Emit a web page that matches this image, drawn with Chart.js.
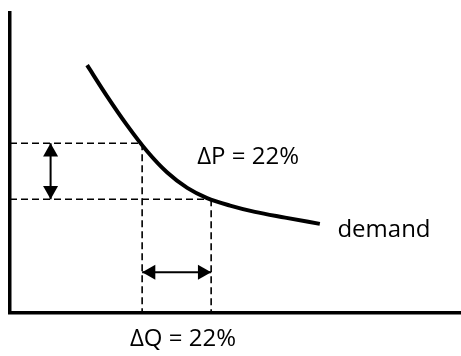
<!DOCTYPE html>
<html>
<head>
<meta charset="utf-8">
<script src="https://cdn.jsdelivr.net/npm/chart.js@4.4.0/dist/chart.umd.min.js"></script>
<style>
  body { margin: 0; background: #fff; }
  canvas { display: block; }
</style>
</head>
<body>
<canvas id="chart" width="461" height="356"></canvas>
<script>
// demand curve (quantity, price), axes 0..100
const demandQ = [17.1, 21.5, 25.9, 30.4, 34.8, 39.3, 43.7, 48.8, 54.3, 61.0, 68.7];
const demandP = [82.6, 72.3, 62.7, 53.9, 46.9, 41.7, 38.3, 35.8, 33.7, 31.8, 29.7];

// the two price / quantity levels marked by the dashed guides
const priceLevels = [56.6, 37.9];
const quantityLevels = [29.3, 44.6];

// where the two double arrows sit
const priceArrowQ = 9.0;
const quantityArrowP = 13.6;

// text labels
const labelTexts = ["\u0394P = 22%", "demand", "\u0394Q = 22%"];
const labelQ = [41.5, 72.6, 26.6];
const labelP = [49.7, 25.2, -11.1];

const dashStyle = { borderColor: "#000", borderWidth: 1.6, borderDash: [7, 4], pointRadius: 0, fill: false };
const arrowStyle = { borderColor: "#000", borderWidth: 2, pointRadius: 0, fill: false, arrow: true };

function seg(x1, y1, x2, y2) {
  return [{ x: x1, y: y1 }, { x: x2, y: y2 }];
}

const datasets = [
  {
    label: "demand",
    data: demandQ.map((q, i) => ({ x: q, y: demandP[i] })),
    borderColor: "#000",
    borderWidth: 4,
    pointRadius: 0,
    cubicInterpolationMode: "monotone",
    fill: false,
  },
];

// dashed guides
priceLevels.forEach((p, i) => {
  datasets.push(Object.assign({ data: seg(0, p, quantityLevels[i], p) }, dashStyle));
  datasets.push(Object.assign({ data: seg(quantityLevels[i], p, quantityLevels[i], 0) }, dashStyle));
});

// arrow shafts
datasets.push(Object.assign({ data: seg(priceArrowQ, priceLevels[0], priceArrowQ, priceLevels[1]) }, arrowStyle));
datasets.push(Object.assign({ data: seg(quantityLevels[0], quantityArrowP, quantityLevels[1], quantityArrowP) }, arrowStyle));

// arrow heads at both ends of the shaft datasets
const arrowHeads = {
  id: "arrowHeads",
  afterDatasetsDraw(chart) {
    const ctx = chart.ctx;
    const size = 15;
    chart.data.datasets.forEach((ds, i) => {
      if (!ds.arrow) return;
      const pts = chart.getDatasetMeta(i).data;
      const a = pts[0], b = pts[pts.length - 1];
      [[a, b], [b, a]].forEach(([tip, other]) => {
        const ang = Math.atan2(tip.y - other.y, tip.x - other.x);
        const h = size * 0.88;
        const bx = tip.x - Math.cos(ang) * h;
        const by = tip.y - Math.sin(ang) * h;
        ctx.save();
        ctx.fillStyle = "#000";
        ctx.beginPath();
        ctx.moveTo(tip.x, tip.y);
        ctx.lineTo(bx + Math.sin(ang) * size / 2, by - Math.cos(ang) * size / 2);
        ctx.lineTo(bx - Math.sin(ang) * size / 2, by + Math.cos(ang) * size / 2);
        ctx.closePath();
        ctx.fill();
        ctx.restore();
      });
    });
  },
};

const textLabels = {
  id: "textLabels",
  afterDraw(chart) {
    const { ctx, scales: { x, y } } = chart;
    ctx.save();
    ctx.fillStyle = "#000";
    ctx.font = "24px 'Open Sans'";
    ctx.textAlign = "left";
    ctx.textBaseline = "alphabetic";
    labelTexts.forEach((t, i) => {
      ctx.fillText(t, x.getPixelForValue(labelQ[i]), y.getPixelForValue(labelP[i]));
    });
    ctx.restore();
  },
};

const axisOpts = {
  min: 0,
  max: 100,
  grid: { display: false, drawTicks: false, tickLength: 0 },
  ticks: { display: false },
  border: { display: true, color: "#000", width: 3.5 },
};

new Chart(document.getElementById("chart"), {
  type: "line",
  data: { datasets: datasets },
  options: {
    responsive: false,
    animation: false,
    layout: { padding: { left: 10, top: 13, right: 0, bottom: 43 } },
    plugins: { legend: { display: false }, tooltip: { enabled: false } },
    scales: {
      x: Object.assign({ type: "linear" }, axisOpts),
      y: Object.assign({ type: "linear" }, axisOpts),
    },
  },
  plugins: [arrowHeads, textLabels],
});
</script>
</body>
</html>
